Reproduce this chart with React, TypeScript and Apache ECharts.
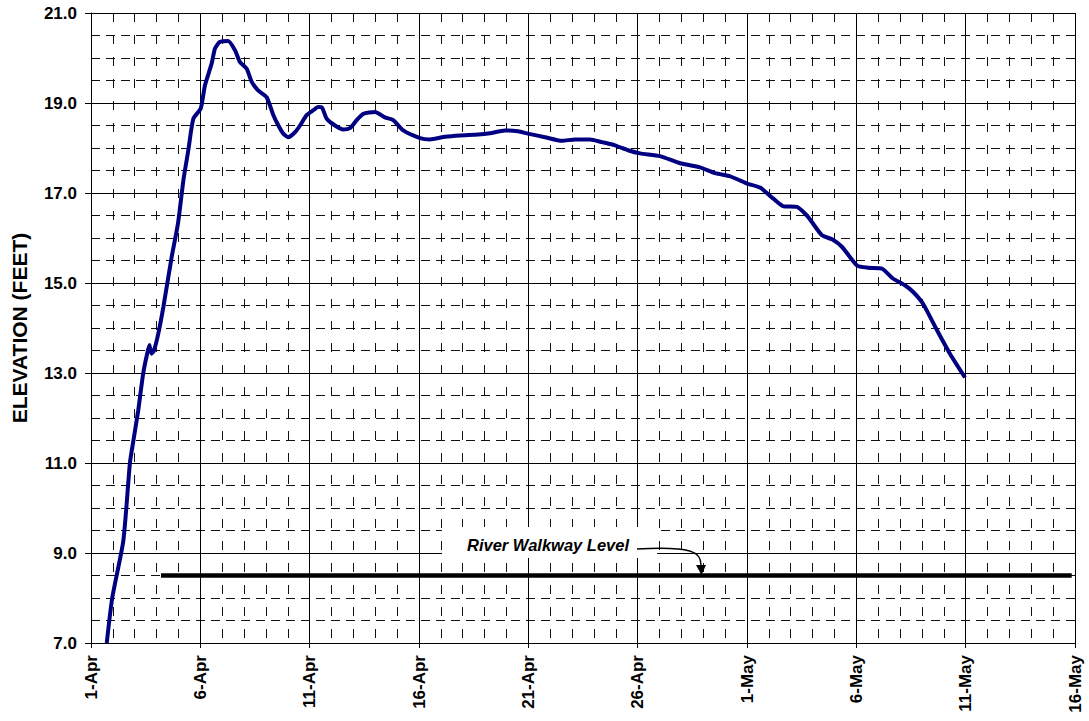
import React, { useEffect, useRef } from "react";
import * as echarts from "echarts";

// Days after 1-Apr and river elevation (feet)
const dayOffsets = [
  0.72, 0.97, 1.48, 1.78, 1.94, 2.16, 2.39, 2.55, 2.67, 2.77, 2.88, 3.08, 3.31, 3.69, 3.98,
  4.23, 4.45, 4.68, 5.02, 5.21, 5.52, 5.67, 5.9, 6.27, 6.59, 6.81, 7.12, 7.35, 7.64, 8.03,
  8.34, 8.57, 8.79, 9.02, 9.33, 9.56, 9.86, 10.17, 10.39, 10.56, 10.78, 11.16, 11.54, 11.84,
  12.15, 12.45, 12.99, 13.44, 13.82, 14.28, 15.05, 15.5, 16.19, 16.87, 17.7, 18.25, 18.93,
  19.53, 19.98, 20.76, 21.54, 22.13, 22.82, 23.37, 23.96, 24.56, 25.11, 26.02, 26.94, 27.85,
  28.54, 29.23, 29.68, 30.0, 30.6, 31.19, 31.64, 32.29, 32.74, 32.96, 33.43, 33.89, 34.35,
  35.03, 35.53, 36.17, 36.67, 37.22, 37.6, 38.05, 38.69, 39.28, 39.97,
];
const elevations = [
  7.0, 8.0, 9.28, 11.0, 11.5, 12.17, 13.0, 13.39, 13.62, 13.43, 13.5, 13.88, 14.47, 15.58, 16.33,
  17.3, 17.95, 18.65, 18.88, 19.39, 19.88, 20.21, 20.36, 20.38, 20.17, 19.91, 19.76, 19.47, 19.28, 19.13,
  18.73, 18.5, 18.32, 18.24, 18.35, 18.5, 18.73, 18.84, 18.91, 18.9, 18.65, 18.5, 18.41, 18.44,
  18.62, 18.76, 18.8, 18.68, 18.62, 18.39, 18.22, 18.19, 18.25, 18.28, 18.3, 18.33, 18.39,
  18.37, 18.32, 18.24, 18.16, 18.19, 18.19, 18.13, 18.06, 17.95, 17.88, 17.82, 17.66, 17.57,
  17.44, 17.37, 17.28, 17.21, 17.12, 16.88, 16.71, 16.69, 16.5, 16.36, 16.06, 15.97, 15.8,
  15.39, 15.34, 15.32, 15.1, 14.95, 14.8, 14.54, 13.95, 13.43, 12.9,
];

const walkwayLevel = 8.5;
const walkwayDays = [3.2, 44.85];
const walkwayLabel = "River Walkway Level";

const xTickLabels = ["1-Apr", "6-Apr", "11-Apr", "16-Apr", "21-Apr", "26-Apr", "1-May", "6-May", "11-May", "16-May"];
const yAxisTitle = "ELEVATION (FEET)";

const FONT = "'Liberation Sans', Arial, sans-serif";

export default function App() {
  const ref = useRef<HTMLDivElement>(null);
  useEffect(() => {
    if (!ref.current) return;
    const chart = echarts.init(ref.current, null, { renderer: "svg" });
    chart.setOption({
      animation: false,
      backgroundColor: "#ffffff",
      grid: { left: 91, top: 13, width: 984, height: 630, containLabel: false },
      xAxis: {
        type: "value",
        min: 0,
        max: 45,
        interval: 5,
        axisLine: { show: true, lineStyle: { color: "#000", width: 1 } },
        axisTick: { show: true, length: 5, lineStyle: { color: "#000" } },
        axisLabel: {
          rotate: 90,
          margin: 12,
          fontFamily: FONT,
          fontWeight: "bold",
          fontSize: 17,
          color: "#000",
          formatter: (v: number) => xTickLabels[Math.round(v / 5)] ?? "",
        },
        splitLine: { show: true, lineStyle: { color: "#000", width: 1 } },
        minorTick: { show: false, splitNumber: 5 },
        minorSplitLine: { show: true, lineStyle: { color: "#111", width: 1, type: [9, 13] } },
      },
      yAxis: {
        type: "value",
        min: 7,
        max: 21,
        interval: 2,
        name: yAxisTitle,
        nameLocation: "middle",
        nameRotate: 90,
        nameGap: 61,
        nameTextStyle: { fontFamily: FONT, fontWeight: "bold", fontSize: 21, color: "#000" },
        axisLine: { show: true, lineStyle: { color: "#000", width: 1 } },
        axisTick: { show: true, length: 6, lineStyle: { color: "#000" } },
        axisLabel: {
          margin: 14,
          fontFamily: FONT,
          fontWeight: "bold",
          fontSize: 17,
          color: "#000",
          formatter: (v: number) => v.toFixed(1),
        },
        splitLine: { show: true, lineStyle: { color: "#000", width: 1 } },
        minorTick: { show: false, splitNumber: 4 },
        minorSplitLine: { show: true, lineStyle: { color: "#111", width: 1, type: [9, 6] } },
      },
      series: [
        {
          type: "line",
          name: "Elevation",
          data: dayOffsets.map((d, i) => [d, elevations[i]]),
          showSymbol: false,
          symbol: "none",
          smooth: 0.2,
          lineStyle: { color: "#000080", width: 4 },
          z: 5,
        },
        {
          type: "line",
          name: "Walkway",
          data: walkwayDays.map((d) => [d, walkwayLevel]),
          showSymbol: false,
          symbol: "none",
          lineStyle: { color: "#000", width: 4.5 },
          z: 4,
        },
      ],
      graphic: [
        {
          type: "rect",
          shape: { x: 442, y: 527, width: 215, height: 31 },
          style: { fill: "#fff" },
          z: 10,
        },
        {
          type: "text",
          x: 467,
          y: 545,
          style: {
            text: walkwayLabel,
            fontFamily: FONT,
            fontWeight: "bold",
            fontStyle: "italic",
            fontSize: 16.5,
            fill: "#000",
            verticalAlign: "middle",
            textAlign: "left",
          },
          z: 11,
        },
        {
          type: "bezierCurve",
          shape: { x1: 637, y1: 549, x2: 701, y2: 565, cpx1: 692, cpy1: 546, cpx2: 701, cpy2: 552 },
          style: { stroke: "#000", lineWidth: 1.5, fill: null },
          z: 11,
        },
        {
          type: "polygon",
          shape: { points: [[696, 565], [706, 565], [701.5, 575]] },
          style: { fill: "#000" },
          z: 11,
        },
      ],
    });
    return () => chart.dispose();
  }, []);
  return <div ref={ref} style={{ width: 1089, height: 721, position: "absolute", left: 0, top: 0 }} />;
}
